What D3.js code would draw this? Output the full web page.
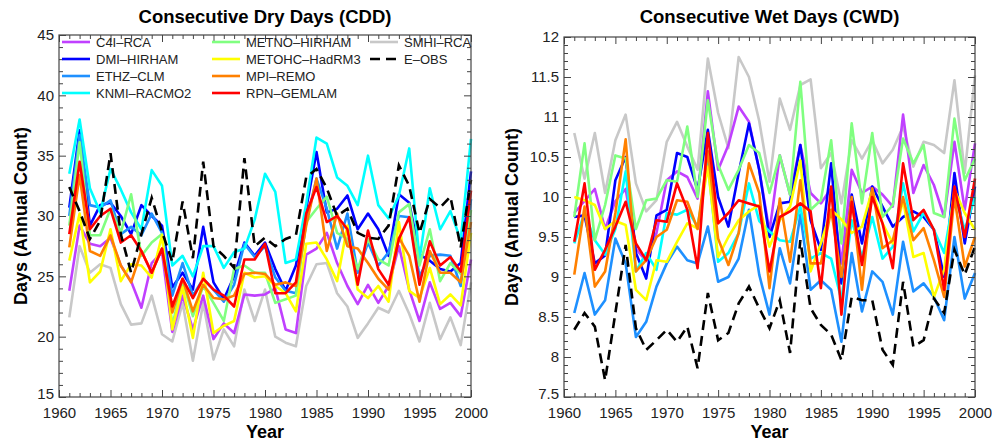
<!DOCTYPE html>
<html>
<head>
<meta charset="utf-8">
<script src="https://cdn.jsdelivr.net/npm/d3@7"></script>
<style>
  body { margin: 0; background: #fff; }
  svg { display: block; }
</style>
</head>
<body>
<svg id="chart" width="992" height="441"></svg>
<script>
// ---- data: annual counts 1961–2000 ----
const years = d3.range(1961, 2001);
const modelNames = ["C4I–RCA", "DMI–HIRHAM", "ETHZ–CLM", "KNMI–RACMO2", "METNO–HIRHAM",
                    "METOHC–HadRM3", "MPI–REMO", "RPN–GEMLAM", "SMHI–RCA"];
const obsName = "E–OBS";

const xTicks = [1960, 1965, 1970, 1975, 1980, 1985, 1990, 1995, 2000];
const cddTicks = [15, 20, 25, 30, 35, 40, 45];
const cwdTicks = [7.5, 8, 8.5, 9, 9.5, 10, 10.5, 11, 11.5, 12];

// Consecutive Dry Days
const cddC4I    = [23.8,29.2,27.7,27.5,28.2,25.9,24.6,22.4,26.1,27.0,20.4,23.4,20.6,23.4,19.8,21.1,20.3,23.5,23.4,23.5,24.0,20.6,20.3,26.8,27.3,28.6,26.1,24.2,22.7,24.3,22.8,24.2,27.5,23.9,21.3,24.5,22.3,22.8,21.7,26.4];
const cddDMI    = [30.7,37.1,29.2,30.9,31.1,30.0,28.5,30.9,30.0,29.2,24.1,25.3,23.9,29.1,24.5,23.1,25.0,27.8,26.7,27.8,25.6,23.8,25.9,30.6,35.3,30.3,30.6,31.7,28.9,30.2,28.9,26.7,31.8,31.1,26.8,26.3,25.6,25.4,26.1,33.7];
const cddETHZ   = [30.0,36.7,30.9,30.7,31.3,28.5,29.1,28.4,30.2,28.6,23.4,26.1,23.4,24.8,23.9,22.9,24.3,27.7,26.6,27.5,24.9,23.8,23.6,29.5,33.1,30.6,27.3,30.2,25.3,27.8,25.9,27.0,30.0,29.9,25.0,26.7,26.8,26.7,24.2,31.4];
const cddKNMI   = [33.5,38.0,32.3,30.3,33.9,32.2,30.3,28.9,33.8,32.5,25.9,26.7,25.0,27.5,27.5,25.7,27.0,27.3,29.7,33.5,32.0,26.1,26.4,31.0,36.5,36.0,33.2,32.5,30.9,35.0,30.9,29.8,31.7,35.6,26.4,32.3,28.9,30.4,28.0,36.4];
const cddMETNO  = [29.2,36.1,28.4,28.4,30.6,28.6,31.8,26.7,27.8,28.5,20.9,24.6,21.7,24.2,22.8,21.3,25.6,25.9,25.3,25.3,22.8,23.1,23.4,29.5,30.6,31.6,28.6,28.1,25.6,28.1,26.4,25.9,30.3,31.0,25.9,28.9,24.6,26.1,25.2,30.5];
const cddMETOHC = [26.3,30.2,24.5,25.4,28.9,24.6,26.0,25.9,24.9,28.4,20.6,24.1,19.9,25.3,20.3,20.9,21.3,25.3,24.9,25.0,24.2,23.6,22.1,27.7,27.8,26.4,24.6,29.2,23.9,23.2,24.2,22.9,29.5,23.8,23.2,25.7,22.7,23.5,22.6,28.6];
const cddMPI    = [27.4,33.4,27.1,26.7,28.4,25.9,24.5,27.1,25.3,27.3,22.0,24.8,22.1,24.3,23.2,23.1,23.4,25.2,25.3,25.2,24.3,24.5,24.2,29.2,33.1,27.1,30.2,27.5,27.3,26.1,24.8,23.9,28.2,26.7,22.9,27.1,25.3,25.3,24.5,29.5];
const cddRPN    = [28.5,34.5,28.9,30.0,30.6,27.8,28.4,27.1,25.3,27.3,22.5,24.8,23.2,24.8,23.9,23.4,22.5,26.4,26.4,27.7,23.6,23.6,24.5,30.2,32.4,29.5,30.0,28.9,24.3,28.8,25.6,24.3,28.1,29.9,24.3,27.9,25.9,26.6,25.4,32.1];
const cddSMHI   = [21.6,27.5,25.3,26.0,25.7,22.7,21.0,21.1,23.4,20.2,19.6,22.8,18.0,22.8,18.1,20.6,19.2,23.9,21.3,23.9,20.0,19.5,19.2,24.2,26.0,26.1,23.6,22.5,19.9,21.1,22.4,22.0,23.8,21.9,19.6,22.8,19.8,21.6,19.3,24.5];
const cddOBS    = [32.4,30.4,28.1,29.6,35.2,28.5,25.3,28.5,31.5,28.7,26.2,31.2,26.5,34.5,27.5,26.7,25.7,34.8,27.5,28.2,27.5,28.1,28.4,33.2,33.9,32.3,30.0,30.6,28.6,28.2,28.1,29.2,34.2,32.5,28.6,31.4,30.7,31.6,27.4,33.0];

// Consecutive Wet Days
const cwdC4I    = [9.8,9.95,10.1,9.6,9.95,10.1,9.35,9.2,9.55,10.21,10.32,10.25,9.98,11.32,10.34,10.65,11.13,10.94,10.34,9.57,10.52,10.03,10.65,10.05,9.92,10.11,9.17,10.34,10.05,10.13,10.03,9.88,11.03,10.05,10.4,10.15,9.75,10.69,9.84,10.67];
const cwdDMI    = [9.75,9.77,9.17,9.27,10.21,10.5,9.3,8.98,9.77,9.84,10.55,10.5,10.09,10.84,10.0,9.63,10.3,10.92,10.34,9.5,9.92,9.94,10.65,9.71,9.34,10.42,8.92,10.03,9.42,10.13,9.88,9.63,9.75,9.82,9.75,9.59,9.0,10.3,9.42,10.13];
const cwdETHZ   = [8.55,9.05,8.53,8.71,9.48,9.17,8.25,8.44,8.88,9.17,9.38,9.21,9.17,9.63,8.94,9.0,9.23,9.84,9.03,8.53,9.36,8.92,9.78,8.84,8.96,8.84,8.19,9.3,8.57,9.07,8.94,8.53,9.44,8.82,8.92,8.75,8.46,9.5,8.73,9.05];
const cwdKNMI   = [9.42,9.8,9.46,9.28,9.6,10.32,9.07,9.3,9.09,9.8,9.78,9.84,9.63,10.42,9.19,9.3,9.55,10.17,9.7,9.57,9.46,9.44,9.88,9.23,9.3,9.23,8.71,9.71,9.25,9.75,9.23,9.38,10.17,9.57,9.8,9.59,9.3,10.05,9.59,10.0];
const cwdMETNO  = [9.75,10.67,9.46,9.9,10.52,10.48,9.6,9.96,9.98,10.21,10.19,10.88,10.0,11.21,10.4,10.09,10.34,10.65,10.55,10.05,10.52,10.03,11.44,9.84,9.96,10.71,9.42,10.92,9.92,10.8,9.75,9.9,10.73,10.42,10.65,9.8,9.75,10.98,10.21,10.48];
const cwdMETOHC = [10.0,9.96,9.9,9.6,9.7,9.65,8.84,8.71,9.21,9.19,9.44,9.67,9.61,10.38,9.25,9.5,9.71,9.82,9.9,9.38,9.71,9.88,10.46,9.07,9.42,9.84,9.72,9.55,9.63,10.09,9.67,9.42,9.96,9.25,9.3,8.75,9.09,10.09,9.8,9.59];
const cwdMPI    = [9.03,9.88,8.88,9.07,9.8,10.72,9.07,9.21,9.5,9.59,9.96,9.94,9.6,10.57,9.48,9.15,9.55,10.42,10.05,8.86,9.98,9.19,10.21,9.17,9.17,9.84,9.0,10.0,8.84,10.11,9.36,9.46,10.0,9.46,9.61,9.21,8.75,10.0,9.13,9.5];
const cwdRPN    = [9.44,10.17,9.09,9.34,9.63,9.94,9.42,9.21,9.71,9.69,10.17,9.84,9.11,10.8,9.67,9.8,9.96,9.92,9.88,9.07,9.75,9.82,9.92,9.82,8.86,10.13,8.53,9.94,9.15,10.0,9.67,9.11,10.42,9.71,9.84,9.59,8.84,10.13,9.5,10.23];
const cwdSMHI   = [10.8,10.23,10.8,10.05,10.71,11.03,10.17,9.82,9.96,10.69,10.94,10.63,10.34,11.73,11.05,10.61,11.75,11.5,10.95,10.19,11.23,10.84,11.4,11.47,10.36,10.55,9.92,10.71,10.48,10.71,10.42,10.59,10.88,10.38,10.69,10.65,10.55,11.46,10.3,11.52];
const cwdOBS    = [8.34,8.55,8.38,7.71,8.55,9.4,8.36,8.09,8.21,8.34,8.19,8.38,7.86,8.8,8.21,8.3,8.67,8.88,8.61,8.36,8.71,8.05,9.46,8.61,8.4,8.28,7.96,8.75,8.71,8.71,8.09,7.9,8.94,8.13,8.21,8.73,8.55,9.34,9.03,9.38];

// ---- styles ----
const modelColors = ["#c040ff", "#0000ff", "#1e90ff", "#00ffff", "#80ff80",
                     "#ffff00", "#ff8000", "#ff0000", "#c8c8c8"];
const FONT = "'Liberation Sans', Arial, sans-serif";
const AXIS = "#444";

const svg = d3.select("#chart");

function drawPanel(opt) {
  const x = d3.scaleLinear().domain([1960, 2000]).range([opt.x0, opt.x1]);
  const yMin = opt.yTicks[0], yMax = opt.yTicks[opt.yTicks.length - 1];
  const y = d3.scaleLinear().domain([yMin, yMax]).range([opt.y1, opt.y0]);
  const g = svg.append("g");

  const line = d3.line().x((d, i) => x(years[i])).y(d => y(d));

  // grey model underneath, then the rest, observations on top
  const order = [8, 0, 1, 2, 3, 4, 5, 6, 7];
  order.forEach(k => {
    g.append("path")
      .datum(opt.models[k])
      .attr("d", line)
      .attr("fill", "none")
      .attr("stroke", modelColors[k])
      .attr("stroke-width", 2.6)
      .attr("stroke-linejoin", "round");
  });
  g.append("path")
    .datum(opt.obs)
    .attr("d", line)
    .attr("fill", "none")
    .attr("stroke", "#000")
    .attr("stroke-width", 2.6)
    .attr("stroke-dasharray", "10,6");

  // minor tick positions
  const xMinor = d3.range(1960, 2001).filter(v => v % 5 !== 0);
  const step = opt.minorStep;
  const nMinor = Math.round((yMax - yMin) / step);
  const yMinor = d3.range(nMinor + 1).map(i => +(yMin + i * step).toFixed(3))
    .filter(v => !opt.yTicks.some(t => Math.abs(t - v) < 1e-6));

  const styleAxis = sel => {
    sel.selectAll("path").remove();
    sel.selectAll("line").attr("stroke", AXIS).attr("stroke-width", 1);
    sel.selectAll("text").attr("font-family", FONT).attr("font-size", 15).attr("fill", "#222");
  };

  // bottom
  g.append("g").attr("transform", `translate(0,${opt.y1})`)
    .call(d3.axisBottom(x).tickValues(xTicks).tickFormat(d3.format("d")).tickSize(-7).tickSizeOuter(0).tickPadding(10))
    .call(styleAxis);
  g.append("g").attr("transform", `translate(0,${opt.y1})`)
    .call(d3.axisBottom(x).tickValues(xMinor).tickFormat("").tickSize(-4).tickSizeOuter(0))
    .call(styleAxis);
  // top
  g.append("g").attr("transform", `translate(0,${opt.y0})`)
    .call(d3.axisTop(x).tickValues(xTicks).tickFormat("").tickSize(-7).tickSizeOuter(0))
    .call(styleAxis);
  g.append("g").attr("transform", `translate(0,${opt.y0})`)
    .call(d3.axisTop(x).tickValues(xMinor).tickFormat("").tickSize(-4).tickSizeOuter(0))
    .call(styleAxis);
  // left
  const leftAxis = g.append("g").attr("transform", `translate(${opt.x0},0)`)
    .call(d3.axisLeft(y).tickValues(opt.yTicks).tickFormat(d => String(+d.toFixed(1))).tickSize(-7).tickSizeOuter(0).tickPadding(5))
    .call(styleAxis);
  // lowest value label sits a touch above the corner
  leftAxis.selectAll(".tick").filter(d => d === yMin).select("text").attr("dy", "0.1em");
  g.append("g").attr("transform", `translate(${opt.x0},0)`)
    .call(d3.axisLeft(y).tickValues(yMinor).tickFormat("").tickSize(-4).tickSizeOuter(0))
    .call(styleAxis);
  // right
  g.append("g").attr("transform", `translate(${opt.x1},0)`)
    .call(d3.axisRight(y).tickValues(opt.yTicks).tickFormat("").tickSize(-7).tickSizeOuter(0))
    .call(styleAxis);
  g.append("g").attr("transform", `translate(${opt.x1},0)`)
    .call(d3.axisRight(y).tickValues(yMinor).tickFormat("").tickSize(-4).tickSizeOuter(0))
    .call(styleAxis);

  // frame
  g.append("rect")
    .attr("x", opt.x0).attr("y", opt.y0)
    .attr("width", opt.x1 - opt.x0).attr("height", opt.y1 - opt.y0)
    .attr("fill", "none").attr("stroke", AXIS).attr("stroke-width", 1.2);

  // titles
  const cx = (opt.x0 + opt.x1) / 2;
  g.append("text").text(opt.title)
    .attr("x", cx).attr("y", 23).attr("text-anchor", "middle")
    .attr("font-family", FONT).attr("font-weight", "bold").attr("font-size", 18.5).attr("fill", "#000");
  g.append("text").text("Year")
    .attr("x", cx).attr("y", 438).attr("text-anchor", "middle")
    .attr("font-family", FONT).attr("font-weight", "bold").attr("font-size", 18).attr("fill", "#000");
  g.append("text").text("Days (Annual Count)")
    .attr("transform", `translate(${opt.yTitleX},${(opt.y0 + opt.y1) / 2}) rotate(-90)`)
    .attr("text-anchor", "middle").attr("dy", "0.35em")
    .attr("font-family", FONT).attr("font-weight", "bold").attr("font-size", 18).attr("fill", "#000");

  return g;
}

drawPanel({
  x0: 59, x1: 471, y0: 35, y1: 397,
  yTicks: cddTicks, minorStep: 1,
  models: [cddC4I, cddDMI, cddETHZ, cddKNMI, cddMETNO, cddMETOHC, cddMPI, cddRPN, cddSMHI],
  obs: cddOBS,
  title: "Consecutive Dry Days (CDD)",
  yTitleX: 21
});

drawPanel({
  x0: 564, x1: 975, y0: 37, y1: 397,
  yTicks: cwdTicks, minorStep: 0.1,
  models: [cwdC4I, cwdDMI, cwdETHZ, cwdKNMI, cwdMETNO, cwdMETOHC, cwdMPI, cwdRPN, cwdSMHI],
  obs: cwdOBS,
  title: "Consecutive Wet Days (CWD)",
  yTitleX: 512
});

// legend inside the CDD panel, filled column by column
const legendItems = modelNames.map((n, i) => ({ name: n, color: modelColors[i], dash: null }))
  .concat([{ name: obsName, color: "#000", dash: "10,6" }]);
const legCols = [62, 212, 370];
const legRows = [42, 59, 76, 93];
const legend = svg.append("g");
legendItems.forEach((it, i) => {
  const c = Math.floor(i / 4), r = i % 4;
  const lx = legCols[c], ly = legRows[r];
  legend.append("line")
    .attr("x1", lx).attr("x2", lx + 28).attr("y1", ly).attr("y2", ly)
    .attr("stroke", it.color).attr("stroke-width", 2.6)
    .attr("stroke-dasharray", it.dash);
  legend.append("text").text(it.name)
    .attr("x", lx + 34).attr("y", ly + 5)
    .attr("font-family", FONT).attr("font-size", 13).attr("fill", "#222");
});
</script>
</body>
</html>
